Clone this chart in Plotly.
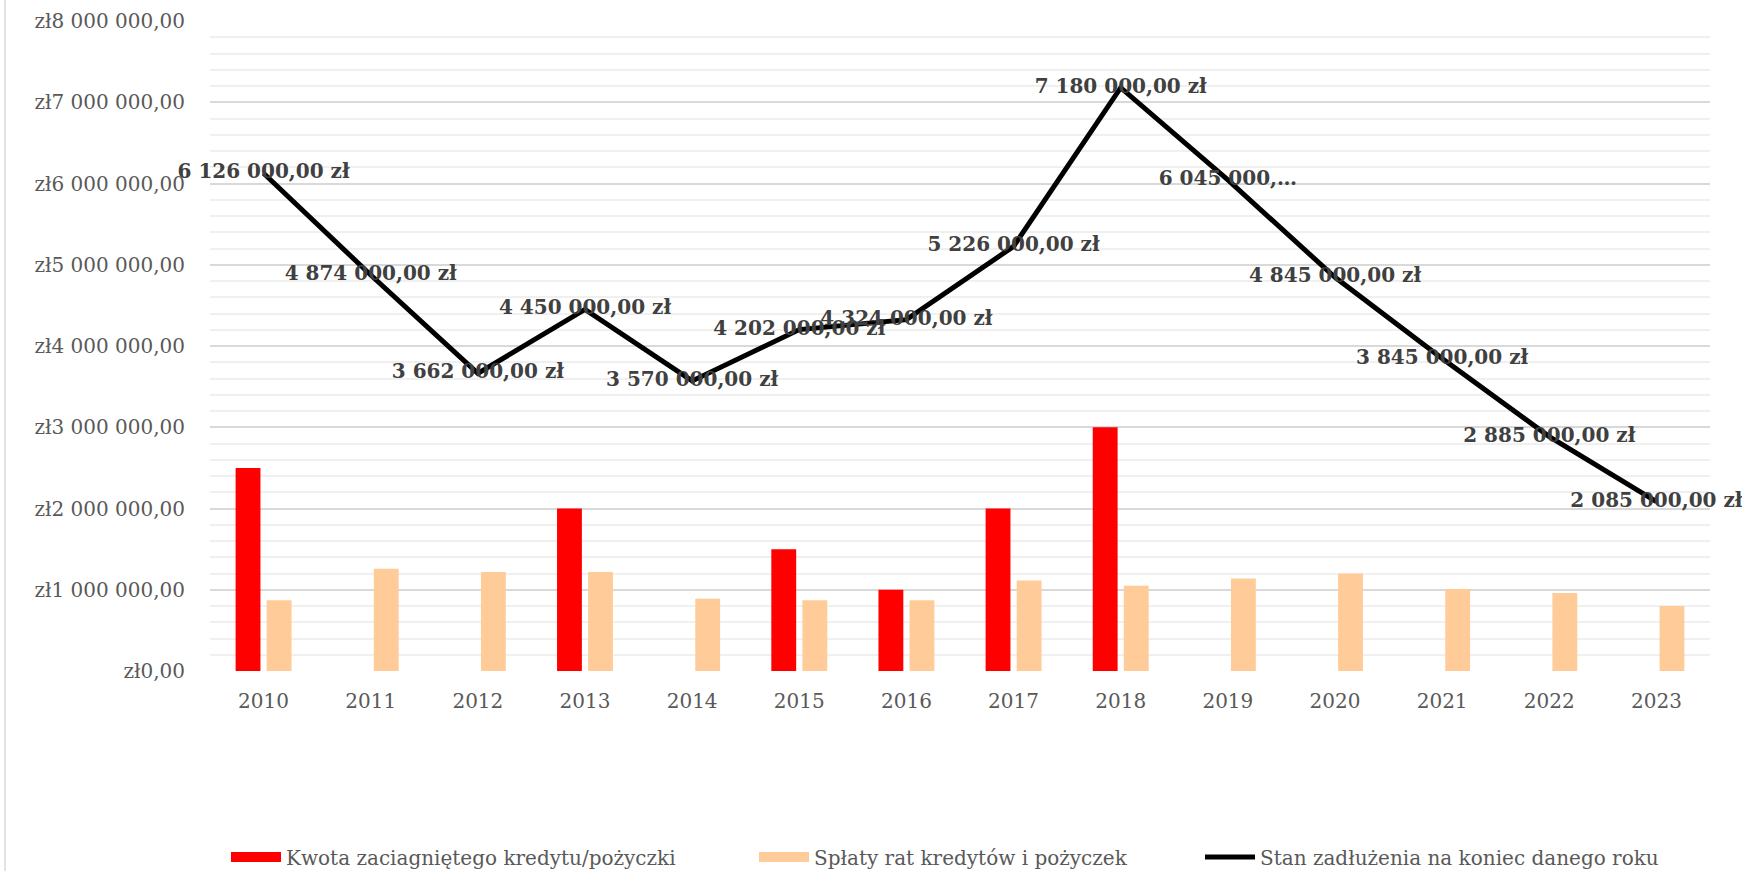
import plotly.graph_objects as go

years = ["2010", "2011", "2012", "2013", "2014", "2015", "2016",
         "2017", "2018", "2019", "2020", "2021", "2022", "2023"]
kredyt = [2500000, None, None, 2000000, None, 1500000, 1000000,
          2000000, 3000000, None, None, None, None, None]
splaty = [870000, 1260000, 1220000, 1220000, 890000, 870000, 870000,
          1115000, 1050000, 1140000, 1200000, 1010000, 960000, 800000]
zadluzenie = [6126000, 4874000, 3662000, 4450000, 3570000, 4202000, 4324000,
              5226000, 7180000, 6045000, 4845000, 3845000, 2885000, 2085000]
y_tickvals = [0, 1000000, 2000000, 3000000, 4000000, 5000000, 6000000, 7000000, 8000000]
y_ticktext = ["zł0,00", "zł1 000 000,00", "zł2 000 000,00", "zł3 000 000,00",
              "zł4 000 000,00", "zł5 000 000,00", "zł6 000 000,00",
              "zł7 000 000,00", "zł8 000 000,00"]
names = ["Kwota zaciagniętego kredytu/pożyczki",
         "Spłaty rat kredytów i pożyczek",
         "Stan zadłużenia na koniec danego roku"]
colors = ["#FF0000", "#FFCC99", "#000000"]


def fmt(v):
    s = f"{v:,.2f}".replace(",", " ").replace(".", ",")
    return s + " zł"


labels = [fmt(v) for v in zadluzenie]
labels[9] = labels[9][:10] + "…"  # truncated in the original chart

W, H = 1742, 871
L, R, T, B = 210, 32, 21, 200
pw, ph = W - L - R, H - T - B


def px_x(x):
    return (x - L) / pw


def px_y(y):
    return (H - B - y) / ph


fig = go.Figure()
fig.add_trace(go.Bar(x=years, y=kredyt, name=names[0], marker_color=colors[0],
                     marker_line_width=0, showlegend=False))
fig.add_trace(go.Bar(x=years, y=splaty, name=names[1], marker_color=colors[1],
                     marker_line_width=0, showlegend=False))
fig.add_trace(go.Scatter(x=years, y=zadluzenie, name=names[2], mode="lines+text",
                         line=dict(color=colors[2], width=5),
                         text=labels, textposition="middle center",
                         textfont=dict(family="DejaVu Serif", size=20, color="#404040",
                                       weight="bold"),
                         cliponaxis=False, legend="legend3"))
# legend-only entries giving the bar series wide rectangular swatches
fig.add_trace(go.Scatter(x=[None], y=[None], mode="lines", name=names[0],
                         line=dict(color=colors[0], width=14), legend="legend"))
fig.add_trace(go.Scatter(x=[None], y=[None], mode="lines", name=names[1],
                         line=dict(color=colors[1], width=14), legend="legend2"))

leg_common = dict(orientation="h", yanchor="middle", xanchor="left",
                  font=dict(family="DejaVu Serif", size=20, color="#595959"),
                  bgcolor="rgba(0,0,0,0)", itemwidth=50)
ly = px_y(857)
fig.update_layout(
    width=W, height=H,
    margin=dict(l=L, r=R, t=T, b=B, autoexpand=False),
    paper_bgcolor="white", plot_bgcolor="white",
    barmode="group", bargap=0.42, bargroupgap=0.2,
    showlegend=True,
    legend=dict(x=px_x(226), y=ly, **leg_common),
    legend2=dict(x=px_x(754), y=ly, **leg_common),
    legend3=dict(x=px_x(1200), y=ly, **leg_common),
    xaxis=dict(type="category", range=[-0.5, 13.5], showgrid=False, showline=False,
               ticks="", automargin=False,
               tickfont=dict(family="DejaVu Serif", size=20, color="#595959"),
               ticklabelstandoff=16),
    yaxis=dict(range=[0, 8000000], tickvals=y_tickvals, ticktext=y_ticktext,
               automargin=False,
               showgrid=True, gridcolor="#d9d9d9", gridwidth=1.5,
               zeroline=False, showline=False, ticks="",
               tickfont=dict(family="DejaVu Serif", size=20, color="#595959"),
               ticklabelstandoff=24,
               minor=dict(dtick=200000, tick0=0, showgrid=True,
                          gridcolor="#f0f0f0", gridwidth=1.5)),
    shapes=[dict(type="line", xref="paper", yref="paper",
                 x0=px_x(5), x1=px_x(5), y0=px_y(0), y1=px_y(H),
                 line=dict(color="#d9d9d9", width=1.5))],
)

fig.write_html("out.html", config={"displayModeBar": False},
               post_script="document.body.style.margin='0';"
                           "document.body.style.overflow='hidden';")
